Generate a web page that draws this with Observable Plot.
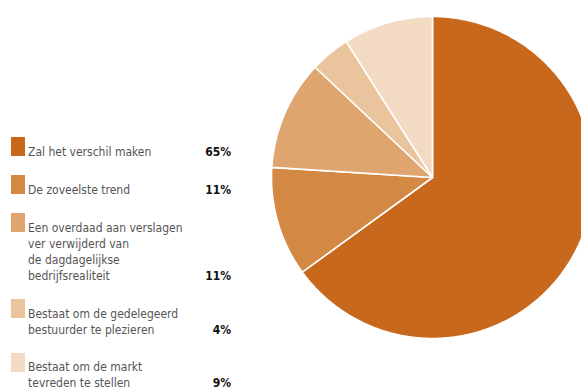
<!DOCTYPE html>
<html>
<head>
<meta charset="utf-8">
<script src="https://cdn.jsdelivr.net/npm/d3@7"></script>
<script src="https://cdn.jsdelivr.net/npm/@observablehq/plot@0.6"></script>
<style>
  html, body { margin: 0; padding: 0; background: #fff; overflow: hidden; }
  #wrap { position: relative; width: 581px; height: 390px; }
  #chart { position: absolute; left: 0; top: 0; }
  #legend {
    position: absolute; left: 11px; top: 137px; width: 220px;
    font-family: "DejaVu Sans Condensed", "Liberation Sans Narrow", sans-serif;
    font-size: 12px; line-height: 16px; color: #555;
  }
  .item { position: relative; padding-top: 6.9px; padding-left: 17px; margin-bottom: 15px; }
  .sw { position: absolute; left: 0; top: 0; width: 14px; height: 19px; }
  .pct { position: absolute; right: 0; bottom: 0; font-weight: bold; color: #111; }
</style>
</head>
<body>
<div id="wrap">
  <div id="chart"></div>
  <div id="legend"></div>
</div>
<script>
const categories = [
  "Zal het verschil maken",
  "De zoveelste trend",
  "Een overdaad aan verslagen<br>ver verwijderd van<br>de dagdagelijkse<br>bedrijfsrealiteit",
  "Bestaat om de gedelegeerd<br>bestuurder te plezieren",
  "Bestaat om de markt<br>tevreden te stellen"
];
const values = [65, 11, 11, 4, 9];
const colors = ["#C8681D", "#D38944", "#DEA56E", "#EAC49C", "#F2DAC3"];

const arcs = d3.pie().sort(null).value(d => d)(values);
const pts = [];
arcs.forEach((a, i) => {
  const n = Math.max(4, Math.ceil((a.endAngle - a.startAngle) / 0.01));
  pts.push({i, x: 0, y: 0});
  for (let k = 0; k <= n; k++) {
    const t = a.startAngle + (a.endAngle - a.startAngle) * k / n;
    pts.push({i, x: Math.sin(t), y: Math.cos(t)});
  }
  pts.push({i, x: 0, y: 0});
});

const cx = 432, cy = 177, r = 161;
const chart = Plot.plot({
  width: 581,
  height: 390,
  margin: 0,
  x: {domain: [-1, 1], range: [cx - r, cx + r], axis: null},
  y: {domain: [-1, 1], range: [cy + r, cy - r], axis: null},
  marks: [
    Plot.line(pts, {
      x: "x", y: "y", z: "i",
      fill: d => colors[d.i],
      stroke: "white", strokeWidth: 1.6, strokeLinejoin: "round",
      curve: "linear"
    })
  ]
});
document.getElementById("chart").appendChild(chart);

const legend = document.getElementById("legend");
categories.forEach((c, i) => {
  const div = document.createElement("div");
  div.className = "item";
  div.innerHTML = `<span class="sw" style="background:${colors[i]}"></span><span class="lbl">${c}</span><span class="pct">${values[i]}%</span>`;
  legend.appendChild(div);
});
</script>
</body>
</html>
